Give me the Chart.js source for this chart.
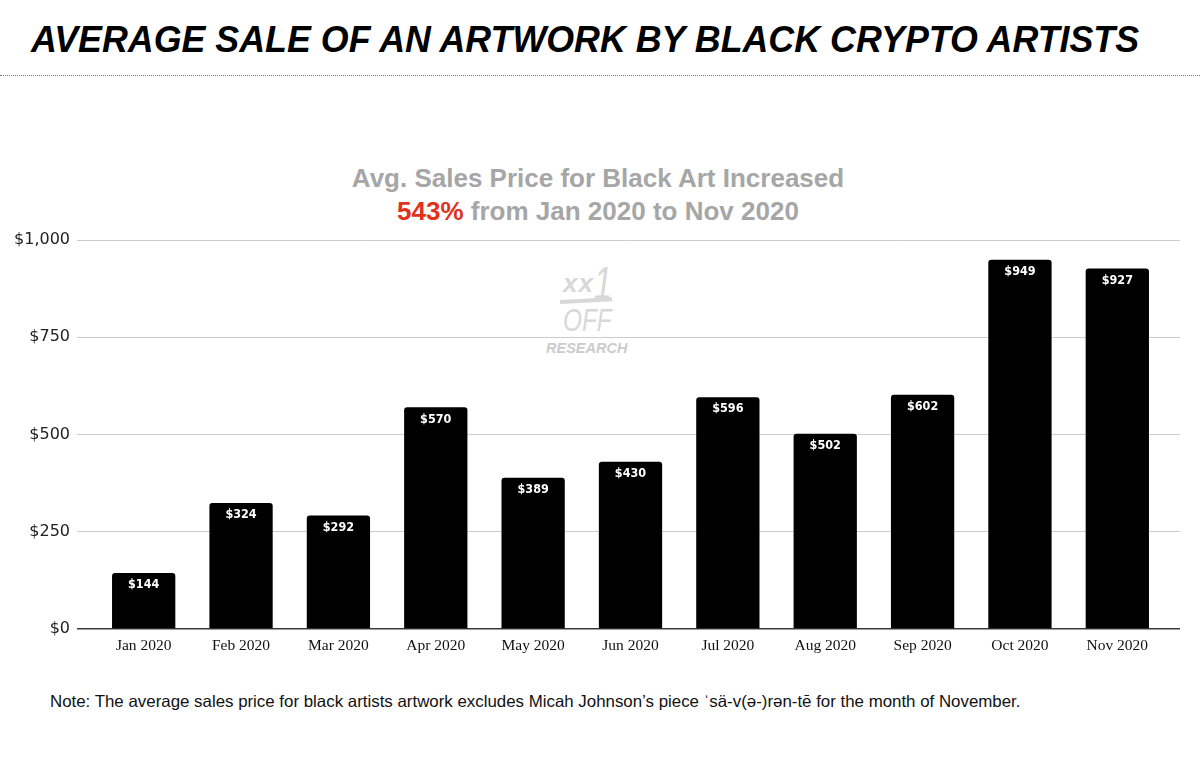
<!DOCTYPE html>
<html>
<head>
<meta charset="utf-8">
<script src="https://cdn.jsdelivr.net/npm/chart.js@4"></script>
<style>
  html, body { margin: 0; padding: 0; background: #fff; }
  body { width: 1200px; height: 772px; position: relative; overflow: hidden; }
  #title {
    position: absolute; left: 31px; top: 18px; white-space: nowrap;
    font-family: "Liberation Sans", Arial, sans-serif;
    font-weight: bold; font-style: italic; font-size: 36px; line-height: 44px;
    color: #000; transform-origin: left top;
  }
  #rule { position: absolute; left: 0; top: 75px; width: 1200px; border-top: 1px dotted #777; }
  #subtitle {
    position: absolute; left: 0; top: 162px; width: 1196px; text-align: center;
    font-family: "Liberation Sans", Arial, sans-serif; font-weight: bold;
    font-size: 26px; line-height: 33px; color: #a6a6a6;
  }
  #subtitle .red { color: #e2311d; }
  .wm {
    position: absolute; white-space: nowrap; color: #d8d8d8;
    font-family: "Liberation Sans", Arial, sans-serif; font-style: italic;
    transform-origin: left top;
  }
  #note {
    position: absolute; left: 50px; top: 692px; white-space: nowrap;
    font-family: "Liberation Sans", Arial, sans-serif; font-size: 16.5px; color: #111;
    transform-origin: left top;
  }
  canvas { position: absolute; left: 0; top: 0; }
</style>
</head>
<body>
<div id="title">AVERAGE SALE OF AN ARTWORK BY BLACK CRYPTO ARTISTS</div>
<div id="rule"></div>
<div id="subtitle">Avg. Sales Price for Black Art Increased<br><span class="red">543%</span> from Jan 2020 to Nov 2020</div>
<div class="wm" style="left:563px; top:268px; font-size:26px; font-weight:bold; letter-spacing:1px;">xx</div>
<div class="wm" style="left:594px; top:256px; font-size:46px; transform:scaleX(0.7);">1</div>
<div class="wm" style="left:560px; top:300px; width:52px; height:4px; background:#d8d8d8; transform:rotate(-3deg);"></div>
<div class="wm" style="left:563px; top:302px; font-size:32px; transform:scaleX(0.76);">OFF</div>
<div class="wm" style="left:546px; top:340px; font-size:14.5px; font-weight:bold; color:#cccccc;">RESEARCH</div>
<div id="note">Note: The average sales price for black artists artwork excludes Micah Johnson’s piece ˈsä-v(ə-)rən-tē for the month of November.</div>
<canvas id="chart" width="1200" height="772"></canvas>
<script>
const months = ['Jan 2020', 'Feb 2020', 'Mar 2020', 'Apr 2020', 'May 2020', 'Jun 2020',
                'Jul 2020', 'Aug 2020', 'Sep 2020', 'Oct 2020', 'Nov 2020'];
const avgSale = [144, 324, 292, 570, 389, 430, 596, 502, 602, 949, 927];
const yTicks = [0, 250, 500, 750, 1000];

// stretch title and note to the widths they have in the picture
const fitWidth = (id, w) => {
  const el = document.getElementById(id);
  el.style.transform = 'scaleX(' + (w / el.offsetWidth) + ')';
};
fitWidth('title', 1108);
fitWidth('note', 970);

const money = v => '$' + v.toLocaleString('en-US');
const gridColor = ctx => ctx.tick && ctx.tick.value === 0 ? '#3a3a3a' : '#cccccc';
const gridWidth = ctx => ctx.tick && ctx.tick.value === 0 ? 1.5 : 1;

const barLabels = {
  id: 'barLabels',
  afterDatasetsDraw(chart) {
    const ctx = chart.ctx;
    ctx.save();
    ctx.fillStyle = '#fff';
    ctx.font = 'bold 12.5px "DejaVu Sans Condensed", "DejaVu Sans"';
    ctx.textAlign = 'center';
    ctx.textBaseline = 'middle';
    chart.getDatasetMeta(0).data.forEach((bar, i) => {
      ctx.fillText(money(avgSale[i]), bar.x, bar.y + 12);
    });
    ctx.restore();
  }
};

new Chart(document.getElementById('chart').getContext('2d'), {
  type: 'bar',
  data: {
    labels: months,
    datasets: [{
      data: avgSale,
      backgroundColor: '#000',
      borderRadius: 3,
      categoryPercentage: 1,
      barPercentage: 0.65
    }]
  },
  options: {
    responsive: false,
    animation: false,
    devicePixelRatio: 1,
    layout: { padding: { top: 240, right: 20, bottom: 113, left: 0 } },
    plugins: { legend: { display: false }, tooltip: { enabled: false } },
    scales: {
      x: {
        grid: { display: false },
        border: { display: false },
        ticks: {
          color: '#111', padding: 0,
          font: { family: '"Liberation Serif", "Times New Roman", serif', size: 15.5 }
        },
        afterFit: s => { s.height = 30; }
      },
      y: {
        min: 0, max: 1000,
        afterBuildTicks: s => { s.ticks = yTicks.map(v => ({ value: v })); },
        grid: { color: gridColor, tickLength: 18, lineWidth: gridWidth },
        border: { display: false },
        ticks: {
          color: '#222', padding: 7,
          font: { family: '"DejaVu Sans", Verdana, sans-serif', size: 16 },
          callback: v => money(v)
        },
        afterFit: s => { s.width = 95; }
      },
      yRight: {
        position: 'right',
        min: 0, max: 1000,
        afterBuildTicks: s => { s.ticks = yTicks.map(v => ({ value: v })); },
        grid: { drawOnChartArea: false, color: gridColor, tickLength: 14, lineWidth: gridWidth },
        border: { display: false },
        ticks: { display: false },
        afterFit: s => { s.width = 14; }
      }
    }
  },
  plugins: [barLabels]
});
</script>
</body>
</html>
